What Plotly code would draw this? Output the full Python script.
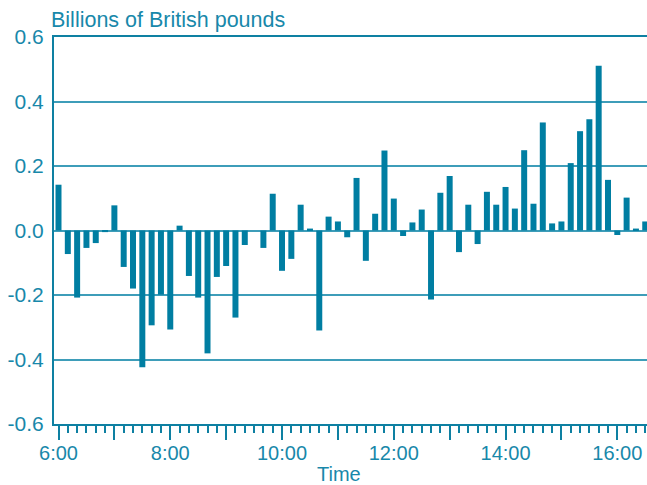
import plotly.graph_objects as go

# Data: net flows, billions of British pounds, every 10 minutes from 6:00
times = ["06:00", "06:10", "06:20", "06:30", "06:40", "06:50",
         "07:00", "07:10", "07:20", "07:30", "07:40", "07:50",
         "08:00", "08:10", "08:20", "08:30", "08:40", "08:50",
         "09:00", "09:10", "09:20", "09:30", "09:40", "09:50",
         "10:00", "10:10", "10:20", "10:30", "10:40", "10:50",
         "11:00", "11:10", "11:20", "11:30", "11:40", "11:50",
         "12:00", "12:10", "12:20", "12:30", "12:40", "12:50",
         "13:00", "13:10", "13:20", "13:30", "13:40", "13:50",
         "14:00", "14:10", "14:20", "14:30", "14:40", "14:50",
         "15:00", "15:10", "15:20", "15:30", "15:40", "15:50",
         "16:00", "16:10", "16:20", "16:30"]
values = [0.142, -0.073, -0.208, -0.054, -0.039, -0.005,
          0.078, -0.113, -0.180, -0.424, -0.294, -0.199,
          -0.307, 0.015, -0.141, -0.208, -0.381, -0.144,
          -0.110, -0.270, -0.045, 0.0, -0.054, 0.114,
          -0.125, -0.088, 0.080, 0.006, -0.310, 0.043,
          0.028, -0.021, 0.163, -0.094, 0.052, 0.248,
          0.099, -0.017, 0.025, 0.065, -0.214, 0.117,
          0.169, -0.067, 0.080, -0.042, 0.120, 0.080,
          0.135, 0.068, 0.249, 0.083, 0.335, 0.022,
          0.028, 0.209, 0.308, 0.345, 0.511, 0.157,
          -0.014, 0.102, 0.006, 0.028]

hour_ticks = ["06:00", "07:00", "08:00", "09:00", "10:00", "11:00",
              "12:00", "13:00", "14:00", "15:00", "16:00"]
hour_labels = ["6:00", "", "8:00", "", "10:00", "", "12:00", "", "14:00", "", "16:00"]

y_ticks = [-0.6, -0.4, -0.2, 0.0, 0.2, 0.4, 0.6]
y_labels = ["-0.6", "-0.4", "-0.2", "0.0", "0.2", "0.4", "0.6"]

DAY = "2000-01-01 "
x_dates = [DAY + t for t in times]

BAR = "#007EA2"
AXIS = "#0E80A2"
GRID = "#3E9DB9"
TEXT = "#1888AA"
FONT = "Liberation Sans, Arial, sans-serif"

fig = go.Figure()
fig.add_trace(go.Bar(x=x_dates, y=values, marker=dict(color=BAR, line=dict(width=0)),
                     width=386000))

fig.update_layout(
    width=647, height=485,
    margin=dict(l=54, r=0, t=37, b=61, autoexpand=False),
    plot_bgcolor="white", paper_bgcolor="white",
    showlegend=False,
    font=dict(family=FONT, size=20, color=TEXT),
    annotations=[
        dict(text="Billions of British pounds", xref="paper", yref="paper",
             x=-0.009, y=1.044, xanchor="left", yanchor="middle", showarrow=False,
             font=dict(family=FONT, size=21.5, color=TEXT)),
        dict(text="Time", xref="paper", yref="paper",
             x=0.48, y=-0.129, xanchor="center", yanchor="middle", showarrow=False,
             font=dict(family=FONT, size=20, color=TEXT)),
    ],
)

fig.update_xaxes(
    type="date",
    range=[DAY + "05:55:10", DAY + "16:31:53"],
    tickmode="array",
    tickvals=[DAY + t for t in hour_ticks],
    ticktext=hour_labels,
    ticks="outside", ticklen=14, tickwidth=2, tickcolor=AXIS,
    ticklabelstandoff=-4,
    minor=dict(ticks="outside", ticklen=7, tickwidth=1.5, tickcolor=AXIS,
               dtick=600000, tick0=DAY + "06:00", showgrid=False),
    showline=True, linecolor=AXIS, linewidth=2, mirror=True,
    showgrid=False, zeroline=False, automargin=False,
    tickfont=dict(family=FONT, size=20, color=TEXT),
)

fig.update_yaxes(
    range=[-0.6, 0.6],
    tickmode="array", tickvals=y_ticks, ticktext=y_labels,
    ticks="", ticklabelstandoff=4,
    showline=True, linecolor=AXIS, linewidth=2, mirror=False,
    showgrid=True, gridcolor=GRID, gridwidth=2,
    zeroline=True, zerolinecolor=GRID, zerolinewidth=2, automargin=False,
    tickfont=dict(family=FONT, size=21, color=TEXT),
)

fig.write_html("out.html",
               config={"displayModeBar": False},
               post_script="document.body.style.margin='0';document.body.style.overflow='hidden';")
